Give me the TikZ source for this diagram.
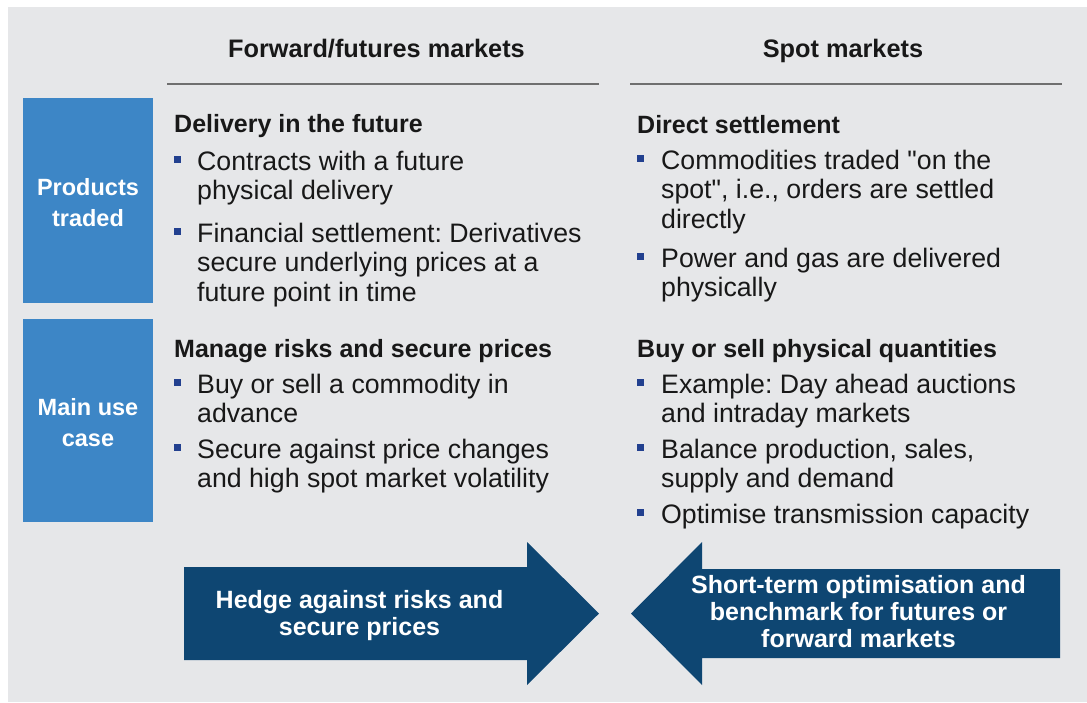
\documentclass[tikz,border=0pt]{standalone}
\usepackage{fontspec}
\setmainfont{Liberation Sans}[Ligatures=TeXOff]
\frenchspacing
\begin{document}
\begin{tikzpicture}[x=1pt,y=-1pt,
  panel/.style={fill=panelgray, draw=none},
  rowbox/.style={fill=rowblue, draw=none, inner sep=0, minimum width=130pt},
  rowlabel/.style={text=white, font=\bfseries\fontsize{23.5}{31}\selectfont, anchor=base, inner sep=0},
  colhead/.style={text=ink, font=\bfseries\fontsize{25.3}{30}\selectfont, anchor=base, inner sep=0},
  rule/.style={draw=rulegray, line width=2.4pt},
  subhead/.style={text=ink, font=\bfseries\fontsize{25}{30}\selectfont, anchor=base west, inner sep=0},
  bodytext/.style={text=ink, font=\fontsize{26.7}{29.5}\selectfont, anchor=base west, inner sep=0},
  bulletmark/.style={fill=bulletblue, minimum size=7pt, inner sep=0},
  bigarrow/.style={fill=arrownavy, draw=none},
  arrowtext/.style={text=white, font=\bfseries\fontsize{25}{27}\selectfont, anchor=base, inner sep=0}
]
\definecolor{panelgray}{HTML}{E6E7E9}
\definecolor{rowblue}{HTML}{3D86C6}
\definecolor{ink}{HTML}{181818}
\definecolor{rulegray}{HTML}{6F6F6F}
\definecolor{bulletblue}{HTML}{22408F}
\definecolor{arrownavy}{HTML}{0E4672}

% page and grey panel
\useasboundingbox (0,0) rectangle (1087,702);
\fill[white] (0,0) rectangle (1087,702);
\fill[panel] (8,7) rectangle (1087,702);

% column headers
\node[colhead] (hfwd) at (376.5,57) {Forward/futures markets};
\node[colhead] (hspot) at (843,57) {Spot markets};
\coordinate (r1a) at (167,84); \coordinate (r1b) at (599,84);
\coordinate (r2a) at (630,84); \coordinate (r2b) at (1062,84);
\draw[rule] (r1a) -- (r1b);
\draw[rule] (r2a) -- (r2b);

% row labels
\node[rowbox, minimum height=205pt] (rowprod) at (88,200.5) {};
\node[rowbox, minimum height=203pt] (rowuse) at (88,420.5) {};
\node[rowlabel] (lprod) at (88,195) {\parbox[t]{130pt}{\centering Products\\traded}};
\node[rowlabel] (luse) at (88,415) {\parbox[t]{130pt}{\centering Main use\\case}};

% forward/futures: products traded
\node[subhead] (f1h) at (174,132) {Delivery in the future};
\node[bulletmark] (f1b1) at (177.5,159.5) {};
\node[bodytext] (f1t1) at (197,170) {\parbox[t]{400pt}{\raggedright Contracts with a future\\physical delivery}};
\node[bulletmark] (f1b2) at (177.5,231.5) {};
\node[bodytext] (f1t2) at (197,242) {\parbox[t]{400pt}{\raggedright Financial settlement: Derivatives\\secure underlying prices at a\\future point in time}};

% forward/futures: main use case
\node[subhead] (f2h) at (174,357) {Manage risks and secure prices};
\node[bulletmark] (f2b1) at (177.5,382.5) {};
\node[bodytext] (f2t1) at (197,393) {\parbox[t]{400pt}{\raggedright Buy or sell a commodity in\\advance}};
\node[bulletmark] (f2b2) at (177.5,447.5) {};
\node[bodytext] (f2t2) at (197,458) {\parbox[t]{400pt}{\raggedright Secure against price changes\\and high spot market volatility}};

% spot: products traded
\node[subhead] (s1h) at (637,133) {Direct settlement};
\node[bulletmark] (s1b1) at (640.5,158.5) {};
\node[bodytext] (s1t1) at (661,169) {\parbox[t]{420pt}{\raggedright Commodities traded "on the\\spot", i.e., orders are settled\\directly}};
\node[bulletmark] (s1b2) at (640.5,256.5) {};
\node[bodytext] (s1t2) at (661,267) {\parbox[t]{420pt}{\raggedright Power and gas are delivered\\physically}};

% spot: main use case
\node[subhead] (s2h) at (637,357) {Buy or sell physical quantities};
\node[bulletmark] (s2b1) at (640.5,382.5) {};
\node[bodytext] (s2t1) at (661,393) {\parbox[t]{420pt}{\raggedright Example: Day ahead auctions\\and intraday markets}};
\node[bulletmark] (s2b2) at (640.5,447.5) {};
\node[bodytext] (s2t2) at (661,458) {\parbox[t]{420pt}{\raggedright Balance production, sales,\\supply and demand}};
\node[bulletmark] (s2b3) at (640.5,512.5) {};
\node[bodytext] (s2t3) at (661,523) {Optimise transmission capacity};

% block arrows
\fill[bigarrow] (184,567) -- (527,567) -- (527,542) -- (599,613.5) -- (527,685) -- (527,660) -- (184,660) -- cycle;
\fill[bigarrow] (1060,569) -- (702,569) -- (702,542) -- (631,613.5) -- (702,685) -- (702,658) -- (1060,658) -- cycle;
\node[arrowtext] (hedge) at (359.5,608) {\parbox[t]{360pt}{\centering Hedge against risks and\\secure prices}};
\node[arrowtext] (bench) at (858.5,593) {\parbox[t]{380pt}{\centering Short-term optimisation and\\benchmark for futures or\\forward markets}};
\end{tikzpicture}
\end{document}
